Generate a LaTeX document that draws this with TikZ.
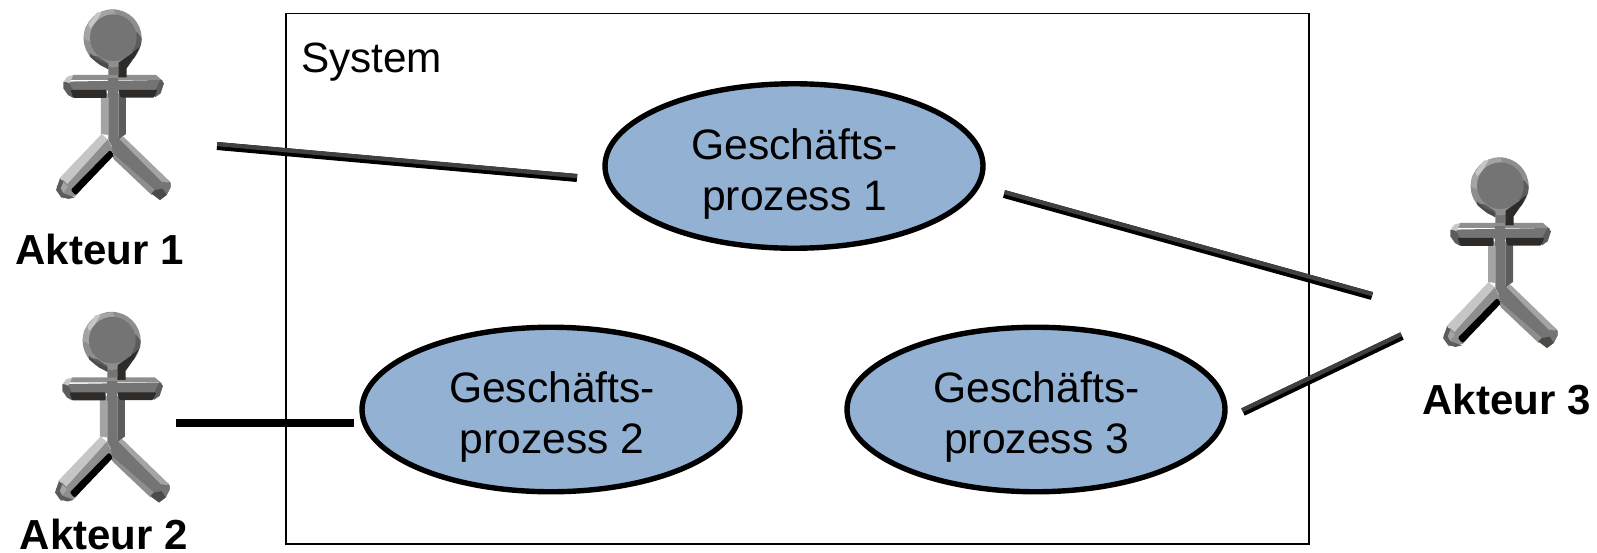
\documentclass[tikz,border=0pt]{standalone}
\usepackage{fontspec}
\setmainfont{Liberation Sans}
\usetikzlibrary{shapes.geometric}
\definecolor{ucfill}{HTML}{93B1D3}
\definecolor{aface}{HTML}{747474}
\definecolor{amid}{HTML}{8E8E8E}
\definecolor{alight}{HTML}{A4A4A4}
\definecolor{apale}{HTML}{C6C6C6}
\definecolor{adark}{HTML}{5C5C5C}
\definecolor{adeep}{HTML}{2E2B28}
\definecolor{linetop}{HTML}{404040}
\tikzset{
  usecase/.style={ellipse,draw=black,line width=5.4pt,fill=ucfill,minimum width=378pt,minimum height=164.5pt,inner sep=0pt},
  uclabel/.style={inner sep=0pt,align=center,font=\fontsize{42.6}{51}\selectfont},
  actorname/.style={font=\fontsize{42}{50}\selectfont\bfseries,inner sep=0pt,anchor=base},
  sysbox/.style={draw=black,line width=1.5pt},
  syslabel/.style={font=\fontsize{42.3}{50}\selectfont,inner sep=0pt,anchor=west},
  linkbase/.style={draw=black,line width=7.2pt},
  linkwide/.style={draw=black,line width=8pt},
  linktone/.style={draw=linetop,line width=4.2pt}
}
\newcommand{\actorfig}[2]{%
\begin{scope}[shift={(#1,#2)},x=0.3333pt,y=-0.3333pt]
  % left leg
  \fill[amid] (185,405) -- (203,418) -- (222,452) -- (107,588) -- (65,595) -- (50,560) -- cycle;
  \fill[apale] (185,402) -- (203,418) -- (82,552) -- (70,540) -- (58,535) -- cycle;
  \fill[black, rounded corners=2pt] (210,450) -- (223,465) -- (107,586) -- (92,570) -- cycle;
  \fill[adark] (60,535) -- (70,545) -- (62,565) -- (70,580) -- (105,592) -- (85,597) -- (62,590) -- (48,570) -- cycle;
  \fill[alight] (70,548) -- (84,560) -- (70,578) -- (63,565) -- cycle;
  % right leg
  \fill[aface] (235,410) -- (392,548) -- (392,560) -- (380,585) -- (360,600) -- (335,582) -- (220,475) -- (215,430) -- cycle;
  \fill[alight] (233,412) -- (250,410) -- (390,545) -- (372,552) -- cycle;
  \fill[amid] (220,462) -- (222,478) -- (335,585) -- (345,570) -- cycle;
  \fill[aface] (368,545) -- (392,550) -- (392,562) -- (380,585) -- (368,566) -- cycle;
  \fill[adeep!85!white] (335,580) -- (345,570) -- (368,566) -- (380,585) -- (360,600) -- cycle;
  % body
  \fill[alight] (183,280) -- (205,280) -- (205,405) -- (183,402) -- cycle;
  \fill[adark] (235,280) -- (258,280) -- (258,402) -- (235,418) -- cycle;
  \fill[aface] (205,185) -- (235,185) -- (235,418) -- (222,448) -- (205,420) -- cycle;
  % arms
  \fill[amid] (100,225) -- (348,225) -- (365,240) -- (95,240) -- (78,240) -- cycle;
  \fill[aface] (72,245) -- (368,240) -- (360,272) -- (92,272) -- cycle;
  \fill[apale] (72,243) -- (82,230) -- (100,225) -- (88,250) -- cycle;
  \fill[adark] (70,245) -- (88,250) -- (100,272) -- (100,294) -- (84,285) -- (70,265) -- cycle;
  \fill[adark] (345,272) -- (362,238) -- (372,250) -- (362,280) -- (345,292) -- cycle;
  \fill[adeep, rounded corners=1pt] (92,270) -- (200,270) -- (200,294) -- (100,294) -- cycle;
  \fill[adeep, rounded corners=1pt] (235,270) -- (352,270) -- (342,293) -- (242,293) -- cycle;
  \fill[aface] (205,235) rectangle (235,295);
  % neck
  \fill[adeep] (235,185) -- (285,170) -- (260,205) -- (260,232) -- (235,232) -- cycle;
  % head
  \fill[amid] (218,115) circle[radius=87];
  \fill[alight] (131,115) -- (135,85) -- (160,50) -- (185,35) -- (220,28) -- (230,50) -- (170,80) -- (150,125) -- cycle;
  \fill[apale] (145,72) -- (170,38) -- (185,36) -- (165,70) -- (150,85) -- cycle;
  \fill[adark] (305,115) -- (303,135) -- (285,165) -- (270,150) -- (285,115) -- (290,95) -- cycle;
  \fill[adark] (150,165) -- (175,190) -- (205,205) -- (205,190) -- (175,170) -- cycle;
  \fill[adeep!85!white] (150,160) -- (170,178) -- (205,195) -- (205,208) -- (180,195) -- (150,170) -- cycle;
  \fill[adeep] (300,140) -- (285,170) -- (260,195) -- (236,205) -- (236,188) -- (275,160) -- cycle;
  \fill[aface] (220,113) circle[radius=70];
\end{scope}}
\begin{document}
\begin{tikzpicture}[x=1pt,y=-1pt]
  \useasboundingbox (0,0) rectangle (1597,552);
  \fill[white] (0,0) rectangle (1597,552);
  \draw[sysbox] (286,13.5) rectangle (1309,544);
  \node[syslabel] (syst) at (301,62) {System};

  \actorfig{40}{0}
  \actorfig{39}{302.5}
  \actorfig{1427}{148}

  \node[actorname] (n1) at (99.5,264) {Akteur 1};
  \node[actorname] (n2) at (104,549) {Akteur 2};
  \node[actorname] (n3) at (1506.5,414) {Akteur 3};

  \node[usecase] (uc1) at (794,166) {};
  \node[usecase] (uc2) at (551,409.5) {};
  \node[usecase] (uc3) at (1036,409.5) {};
  \node[uclabel] (t1) at (794.5,174) {Geschäfts-\\prozess 1};
  \node[uclabel] (t2) at (552,417) {Geschäfts-\\prozess 2};
  \node[uclabel] (t3) at (1036.5,417) {Geschäfts-\\prozess 3};

  \coordinate (a1) at (217,146);
  \coordinate (b1) at (577,178);
  \coordinate (a2) at (176,423);
  \coordinate (b2) at (354,423);
  \coordinate (c1) at (1004,194);
  \coordinate (d1) at (1372,296);
  \coordinate (c3) at (1243,412);
  \coordinate (d3) at (1402,336);

  \draw[linkwide] (a1) -- (b1);
  \draw[linktone,transform canvas={xshift=0.15pt,yshift=1.9pt}] (a1) -- (b1);
  \draw[linkbase] (a2) -- (b2);
  \draw[linkwide] (c1) -- (d1);
  \draw[linktone,transform canvas={xshift=0.5pt,yshift=1.8pt}] (c1) -- (d1);
  \draw[linkwide] (c3) -- (d3);
  \draw[linktone,transform canvas={xshift=-0.8pt,yshift=1.7pt}] (c3) -- (d3);
\end{tikzpicture}
\end{document}
